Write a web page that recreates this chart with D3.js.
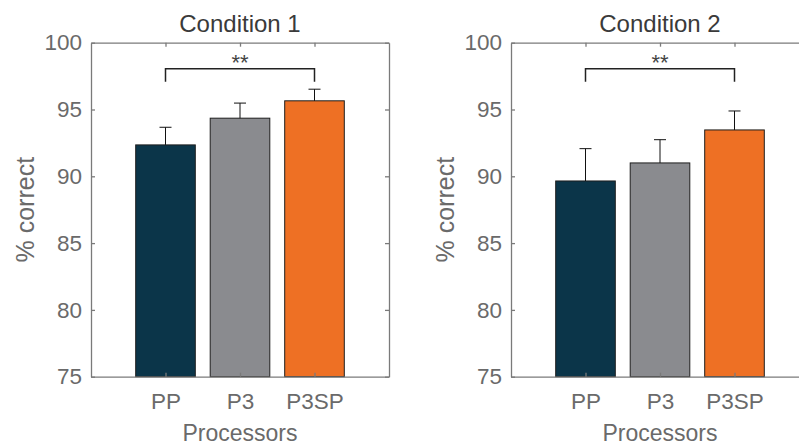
<!DOCTYPE html>
<html><head><meta charset="utf-8">
<script src="https://cdn.jsdelivr.net/npm/d3@7"></script>
<style>
html,body{margin:0;padding:0;background:#fff;}
svg{display:block;font-family:"Liberation Sans",Arial,Helvetica,sans-serif;}
</style></head>
<body>
<svg id="chart" width="799" height="444"></svg>
<script>
const categories = ["PP", "P3", "P3SP"];
const titles = ["Condition 1", "Condition 2"];
const cond1Values = [92.35, 94.35, 95.65];
const cond1Errors = [1.32, 1.13, 0.87];
const cond2Values = [89.65, 91.0, 93.47];
const cond2Errors = [2.42, 1.74, 1.42];
const yTicks = [75, 80, 85, 90, 95, 100];
const barColors = ["#0b3549", "#8a8b8f", "#ee7024"];
const sigLabel = "**";
const sigLevel = 98.05;
const sigLegLevel = 97.08;
const xLabel = "Processors";
const yLabel = "% correct";

const svg = d3.select("#chart");
const panels = [
  {title: titles[0], values: cond1Values, errors: cond1Errors, left: 91},
  {title: titles[1], values: cond2Values, errors: cond2Errors, left: 511}
];
const plotTop = 42.7, plotBottom = 376.7, pw = 298;
const axisColor = "#7a7a7a", textColor = "#6a6a6a";

panels.forEach(p => {
  const g = svg.append("g");
  const x = d3.scaleLinear().domain([0, 4]).range([p.left, p.left + pw]);
  const y = d3.scaleLinear().domain([75, 100]).range([plotBottom, plotTop]);
  const bw = x(0.8) - x(0);

  g.selectAll("rect.bar").data(p.values).join("rect")
    .attr("x", (d, i) => x(i + 1) - bw / 2)
    .attr("y", d => y(d))
    .attr("width", bw)
    .attr("height", d => y(75) - y(d))
    .attr("fill", (d, i) => barColors[i])
    .attr("stroke", "#1e1e1e").attr("stroke-width", 1);

  p.values.forEach((v, i) => {
    const cx = x(i + 1);
    g.append("line").attr("x1", cx).attr("x2", cx)
      .attr("y1", y(v)).attr("y2", y(v + p.errors[i]))
      .attr("stroke", "#111").attr("stroke-width", 1);
    g.append("line").attr("x1", cx - 6).attr("x2", cx + 6)
      .attr("y1", y(v + p.errors[i])).attr("y2", y(v + p.errors[i]))
      .attr("stroke", "#111").attr("stroke-width", 1);
  });

  const fmt = d3.format("d");
  const left = g.append("g").attr("transform", `translate(${p.left},0)`)
    .call(d3.axisLeft(y).tickValues(yTicks).tickFormat(fmt).tickSizeInner(-4).tickSizeOuter(0).tickPadding(9));
  const right = g.append("g").attr("transform", `translate(${p.left + pw},0)`)
    .call(d3.axisRight(y).tickValues(yTicks).tickFormat("").tickSizeInner(-4).tickSizeOuter(0));
  const bot = g.append("g").attr("transform", `translate(0,${plotBottom})`)
    .call(d3.axisBottom(x).tickValues([1, 2, 3]).tickFormat((d, i) => categories[i]).tickSizeInner(-4).tickSizeOuter(0).tickPadding(16));
  const topAx = g.append("g").attr("transform", `translate(0,${plotTop})`)
    .call(d3.axisTop(x).tickValues([1, 2, 3]).tickFormat("").tickSizeInner(-4).tickSizeOuter(0));
  [left, right, bot, topAx].forEach(a => {
    a.select(".domain").attr("stroke", axisColor).attr("stroke-width", 1.3);
    a.selectAll(".tick line").attr("stroke", axisColor).attr("stroke-width", 1.3);
    a.selectAll("text").attr("fill", textColor).attr("font-size", 22.5).attr("font-family", null);
  });

  const x1 = x(1), x3 = x(3);
  g.append("path")
    .attr("d", `M${x1},${y(sigLegLevel)}V${y(sigLevel)}H${x3}V${y(sigLegLevel)}`)
    .attr("fill", "none").attr("stroke", "#222").attr("stroke-width", 1.5);
  g.append("text").attr("x", (x1 + x3) / 2).attr("y", y(sigLevel) + 1)
    .attr("text-anchor", "middle").attr("font-size", 22).attr("fill", "#444").text(sigLabel);

  g.append("text").attr("x", x(2)).attr("y", 31.5).attr("text-anchor", "middle")
    .attr("font-size", 24).attr("fill", "#3a3a3a").text(p.title);
  g.append("text").attr("x", x(2)).attr("y", 440.5).attr("text-anchor", "middle")
    .attr("font-size", 23).attr("fill", textColor).text(xLabel);
  g.append("text").attr("transform", `translate(${p.left - 57.5},${(plotTop + plotBottom) / 2}) rotate(-90)`)
    .attr("text-anchor", "middle").attr("font-size", 25).attr("fill", textColor).text(yLabel);
});
</script>
</body></html>
